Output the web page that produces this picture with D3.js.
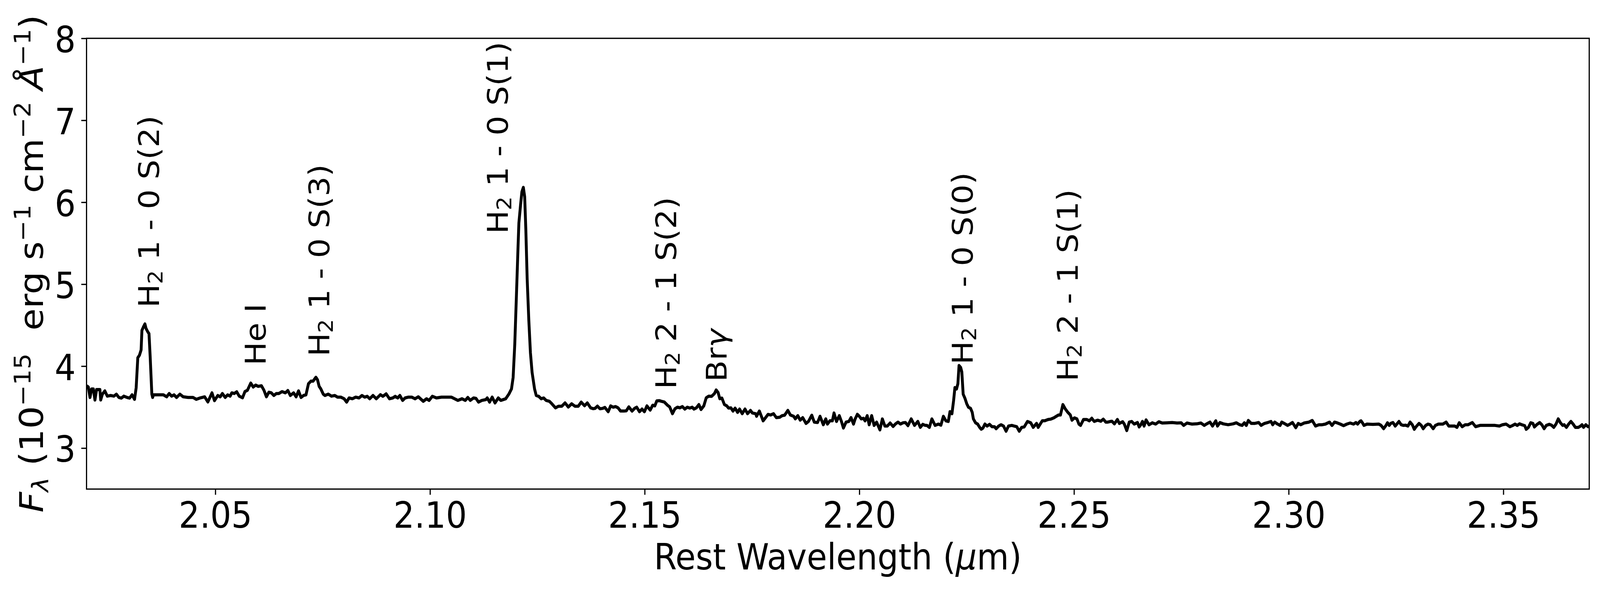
<!DOCTYPE html>
<html lang="en">
<head>
    <meta charset="utf-8">
    <script src="https://cdn.jsdelivr.net/npm/d3@7"></script>
    <style>
        html, body { margin: 0; padding: 0; background: #fff; overflow: hidden; }
        svg { display: block; width: 100vw; height: 100vh; }
        text { font-family: "DejaVu Sans", sans-serif; fill: #000; white-space: pre; }
    </style>
</head>
<body>
<script>

    // [rest wavelength (um), F_lambda (1e-15 erg/s/cm2/A)]
    const spectrum = [
        [2.02004, 3.761], [2.02042, 3.745], [2.02081, 3.618], [2.02119, 3.722], [2.02158, 3.722],
        [2.02196, 3.587], [2.02234, 3.714], [2.02273, 3.714], [2.02311, 3.714], [2.02330, 3.587],
        [2.02369, 3.658], [2.02426, 3.698], [2.02484, 3.634], [2.02561, 3.642], [2.02638, 3.634],
        [2.02695, 3.658], [2.02753, 3.618], [2.02810, 3.610], [2.02868, 3.634], [2.02945, 3.618],
        [2.03002, 3.610], [2.03060, 3.650], [2.03118, 3.595], [2.03156, 3.737], [2.03194, 4.102],
        [2.03233, 4.134], [2.03271, 4.198], [2.03290, 4.436], [2.03329, 4.483], [2.03360, 4.515],
        [2.03386, 4.460], [2.03425, 4.420], [2.03455, 4.396], [2.03482, 4.118], [2.03521, 3.658],
        [2.03540, 3.618], [2.03559, 3.650], [2.03674, 3.650], [2.03790, 3.650], [2.03866, 3.626],
        [2.03924, 3.666], [2.03982, 3.634], [2.04039, 3.650], [2.04097, 3.618], [2.04174, 3.658],
        [2.04250, 3.626], [2.04366, 3.618], [2.04481, 3.618], [2.04558, 3.595], [2.04634, 3.610],
        [2.04750, 3.626], [2.04826, 3.563], [2.04922, 3.674], [2.04980, 3.579], [2.05057, 3.642],
        [2.05114, 3.626], [2.05164, 3.666], [2.05230, 3.618], [2.05287, 3.650], [2.05345, 3.634],
        [2.05383, 3.674], [2.05441, 3.666], [2.05498, 3.687], [2.05556, 3.634], [2.05633, 3.614],
        [2.05690, 3.690], [2.05748, 3.706], [2.05825, 3.793], [2.05882, 3.745], [2.05940, 3.769],
        [2.05998, 3.753], [2.06074, 3.761], [2.06132, 3.706], [2.06190, 3.626], [2.06247, 3.682],
        [2.06305, 3.674], [2.06362, 3.642], [2.06420, 3.666], [2.06478, 3.666], [2.06554, 3.690],
        [2.06631, 3.674], [2.06689, 3.703], [2.06746, 3.642], [2.06823, 3.674], [2.06881, 3.626],
        [2.06938, 3.698], [2.06996, 3.618], [2.07054, 3.642], [2.07111, 3.650], [2.07169, 3.785],
        [2.07226, 3.817], [2.07276, 3.817], [2.07342, 3.864], [2.07380, 3.833], [2.07418, 3.753],
        [2.07457, 3.722], [2.07514, 3.658], [2.07553, 3.642], [2.07630, 3.658], [2.07706, 3.634],
        [2.07783, 3.642],
        [2.07846, 3.622], [2.07923, 3.622], [2.08000, 3.602], [2.08058, 3.561], [2.08115, 3.612],
        [2.08192, 3.602], [2.08269, 3.622], [2.08346, 3.612], [2.08415, 3.642], [2.08480, 3.622],
        [2.08538, 3.632], [2.08595, 3.602], [2.08672, 3.642], [2.08749, 3.602], [2.08845, 3.652],
        [2.08903, 3.632], [2.08979, 3.662], [2.09056, 3.602], [2.09133, 3.612], [2.09190, 3.632],
        [2.09248, 3.612], [2.09298, 3.642], [2.09363, 3.582], [2.09421, 3.612], [2.09498, 3.622],
        [2.09574, 3.622], [2.09651, 3.602], [2.09728, 3.626], [2.09843, 3.571], [2.09920, 3.602],
        [2.09978, 3.582], [2.10054, 3.632], [2.10150, 3.612], [2.10266, 3.622], [2.10381, 3.622],
        [2.10496, 3.622], [2.10573, 3.602], [2.10650, 3.582], [2.10746, 3.602], [2.10822, 3.582],
        [2.10880, 3.618], [2.10938, 3.582], [2.11014, 3.612], [2.11072, 3.606], [2.11130, 3.561],
        [2.11206, 3.582], [2.11302, 3.592], [2.11333, 3.612], [2.11387, 3.561], [2.11448, 3.622],
        [2.11514, 3.551], [2.11590, 3.612], [2.11648, 3.582], [2.11763, 3.602], [2.11840, 3.662],
        [2.11898, 3.722], [2.11936, 3.862], [2.11974, 4.263], [2.12013, 4.864], [2.12051, 5.466],
        [2.12070, 5.746], [2.12109, 5.967], [2.12140, 6.127], [2.12174, 6.181], [2.12205, 6.067],
        [2.12232, 5.666], [2.12263, 5.065], [2.12301, 4.564], [2.12339, 4.163], [2.12378, 3.922],
        [2.12435, 3.722], [2.12474, 3.642], [2.12531, 3.632], [2.12589, 3.602], [2.12646, 3.612],
        [2.12704, 3.582], [2.12781, 3.571], [2.12838, 3.541], [2.12923, 3.491], [2.12992, 3.511],
        [2.13069, 3.511], [2.13146, 3.551], [2.13222, 3.501], [2.13299, 3.541], [2.13376, 3.511],
        [2.13453, 3.511], [2.13522, 3.561], [2.13599, 3.517], [2.13664, 3.551], [2.13741, 3.491],
        [2.13798, 3.481],
        [2.13843, 3.484], [2.13900, 3.512], [2.13958, 3.480], [2.14015, 3.484], [2.14073, 3.496],
        [2.14150, 3.444], [2.14207, 3.515], [2.14265, 3.499], [2.14322, 3.507], [2.14380, 3.491],
        [2.14438, 3.452], [2.14514, 3.452], [2.14572, 3.455], [2.14630, 3.503], [2.14706, 3.452],
        [2.14764, 3.484], [2.14814, 3.499], [2.14879, 3.444], [2.14937, 3.476], [2.14994, 3.444],
        [2.15052, 3.515], [2.15129, 3.464], [2.15186, 3.523], [2.15236, 3.515], [2.15282, 3.576],
        [2.15340, 3.579], [2.15390, 3.571], [2.15455, 3.563], [2.15532, 3.523], [2.15582, 3.503],
        [2.15647, 3.420], [2.15705, 3.480], [2.15763, 3.499], [2.15820, 3.491], [2.15878, 3.507],
        [2.15935, 3.476], [2.15993, 3.499], [2.16050, 3.488], [2.16108, 3.499], [2.16146, 3.476],
        [2.16204, 3.491], [2.16262, 3.531], [2.16312, 3.471], [2.16377, 3.515], [2.16434, 3.614],
        [2.16492, 3.634], [2.16557, 3.631], [2.16626, 3.666], [2.16665, 3.709], [2.16711, 3.677],
        [2.16749, 3.603], [2.16799, 3.610], [2.16857, 3.531], [2.16914, 3.515], [2.16953, 3.488],
        [2.17010, 3.491], [2.17056, 3.452], [2.17106, 3.487], [2.17164, 3.436], [2.17210, 3.476],
        [2.17272, 3.420], [2.17337, 3.476], [2.17395, 3.420], [2.17464, 3.460], [2.17510, 3.428],
        [2.17587, 3.420], [2.17606, 3.388], [2.17671, 3.452], [2.17759, 3.333], [2.17817, 3.372],
        [2.17874, 3.412], [2.17932, 3.404], [2.18001, 3.420], [2.18066, 3.372], [2.18143, 3.376],
        [2.18201, 3.396], [2.18258, 3.401], [2.18335, 3.460], [2.18393, 3.404], [2.18470, 3.388],
        [2.18508, 3.357], [2.18566, 3.396], [2.18623, 3.341], [2.18681, 3.372], [2.18758, 3.301],
        [2.18815, 3.325], [2.18892, 3.401], [2.18950, 3.317], [2.19027, 3.312], [2.19084, 3.388],
        [2.19161, 3.285], [2.19218, 3.357], [2.19257, 3.293], [2.19314, 3.333], [2.19372, 3.333],
        [2.19410, 3.428], [2.19468, 3.325], [2.19533, 3.396], [2.19583, 3.325], [2.19629, 3.245],
        [2.19690, 3.317], [2.19756, 3.325], [2.19806, 3.372],
        [2.19864, 3.293], [2.19903, 3.356], [2.19953, 3.412], [2.19999, 3.388], [2.20045, 3.356],
        [2.20095, 3.364], [2.20133, 3.333], [2.20183, 3.396], [2.20229, 3.285], [2.20287, 3.396],
        [2.20344, 3.277], [2.20402, 3.317], [2.20441, 3.269], [2.20479, 3.222], [2.20536, 3.356],
        [2.20594, 3.269], [2.20652, 3.269], [2.20717, 3.306], [2.20786, 3.264], [2.20844, 3.296],
        [2.20901, 3.317], [2.20959, 3.293], [2.21016, 3.309], [2.21074, 3.312], [2.21132, 3.274],
        [2.21208, 3.356], [2.21285, 3.277], [2.21362, 3.325], [2.21420, 3.253], [2.21477, 3.290],
        [2.21535, 3.277], [2.21573, 3.277], [2.21631, 3.253], [2.21689, 3.356], [2.21765, 3.277],
        [2.21842, 3.293], [2.21900, 3.280], [2.21957, 3.388], [2.22015, 3.333], [2.22072, 3.325],
        [2.22111, 3.444], [2.22157, 3.420], [2.22195, 3.579], [2.22226, 3.738], [2.22264, 3.722],
        [2.22295, 3.785], [2.22322, 4.007], [2.22360, 3.984], [2.22387, 3.928], [2.22418, 3.658],
        [2.22457, 3.611], [2.22503, 3.539], [2.22541, 3.499], [2.22591, 3.484], [2.22629, 3.436],
        [2.22656, 3.356], [2.22706, 3.309], [2.22756, 3.293], [2.22802, 3.253], [2.22840, 3.230],
        [2.22879, 3.245], [2.22925, 3.293], [2.22975, 3.269], [2.23033, 3.290], [2.23090, 3.261],
        [2.23148, 3.261], [2.23186, 3.237], [2.23244, 3.269], [2.23301, 3.285], [2.23359, 3.269],
        [2.23417, 3.206], [2.23474, 3.269], [2.23551, 3.277], [2.23609, 3.269], [2.23666, 3.261],
        [2.23724, 3.206], [2.23781, 3.253], [2.23839, 3.258], [2.23916, 3.325], [2.23993, 3.309],
        [2.24050, 3.253], [2.24127, 3.301], [2.24165, 3.253], [2.24261, 3.333], [2.24319, 3.333],
        [2.24396, 3.349], [2.24453, 3.353], [2.24530, 3.369], [2.24588, 3.388], [2.24638, 3.404],
        [2.24684, 3.404], [2.24741, 3.531], [2.24799, 3.476], [2.24856, 3.436], [2.24914, 3.404],
        [2.24952, 3.341], [2.25010, 3.369], [2.25068, 3.356], [2.25114, 3.293], [2.25152, 3.277],
        [2.25221, 3.349], [2.25298, 3.349], [2.25356, 3.333], [2.25413, 3.364], [2.25471, 3.325],
        [2.25548, 3.341], [2.25625, 3.328], [2.25682, 3.353], [2.25740, 3.317],
        [2.25787, 3.317], [2.25845, 3.325], [2.25883, 3.328], [2.25941, 3.296], [2.26010, 3.349],
        [2.26056, 3.301], [2.26133, 3.322], [2.26171, 3.293], [2.26229, 3.214], [2.26286, 3.317],
        [2.26344, 3.325], [2.26402, 3.293], [2.26478, 3.312], [2.26517, 3.258], [2.26555, 3.285],
        [2.26594, 3.325], [2.26632, 3.269], [2.26678, 3.344], [2.26709, 3.317], [2.26747, 3.285],
        [2.26824, 3.309], [2.26901, 3.293], [2.26978, 3.322], [2.27054, 3.306], [2.27170, 3.309],
        [2.27285, 3.312], [2.27400, 3.306], [2.27496, 3.309], [2.27554, 3.277], [2.27631, 3.306],
        [2.27746, 3.293], [2.27861, 3.296], [2.27957, 3.306], [2.28034, 3.277], [2.28091, 3.296],
        [2.28168, 3.317], [2.28226, 3.269], [2.28302, 3.333], [2.28341, 3.269], [2.28398, 3.312],
        [2.28475, 3.296], [2.28590, 3.285], [2.28706, 3.296], [2.28782, 3.309], [2.28859, 3.285],
        [2.28917, 3.277], [2.28967, 3.309], [2.29013, 3.277], [2.29059, 3.337], [2.29128, 3.301],
        [2.29205, 3.301], [2.29301, 3.312], [2.29358, 3.277], [2.29435, 3.301], [2.29512, 3.312],
        [2.29589, 3.325], [2.29627, 3.285], [2.29673, 3.317], [2.29742, 3.293], [2.29800, 3.277],
        [2.29838, 3.317], [2.29896, 3.301], [2.29973, 3.277], [2.30030, 3.293], [2.30088, 3.312],
        [2.30165, 3.249], [2.30222, 3.301], [2.30280, 3.285], [2.30357, 3.306], [2.30472, 3.317],
        [2.30549, 3.337], [2.30626, 3.269], [2.30702, 3.285], [2.30779, 3.285], [2.30856, 3.293],
        [2.30952, 3.317], [2.31009, 3.277], [2.31067, 3.317], [2.31125, 3.309], [2.31202, 3.293],
        [2.31278, 3.274], [2.31355, 3.293], [2.31432, 3.306], [2.31509, 3.293], [2.31566, 3.312],
        [2.31605, 3.293], [2.31662, 3.328],
        [2.31684, 3.333], [2.31718, 3.309], [2.31753, 3.277], [2.31823, 3.293], [2.31961, 3.290],
        [2.32100, 3.293], [2.32152, 3.277], [2.32211, 3.237], [2.32256, 3.269], [2.32301, 3.309],
        [2.32343, 3.277], [2.32377, 3.301], [2.32429, 3.312], [2.32481, 3.269], [2.32568, 3.325],
        [2.32620, 3.285], [2.32672, 3.277], [2.32724, 3.280], [2.32776, 3.269], [2.32828, 3.317],
        [2.32880, 3.285], [2.32925, 3.229], [2.32967, 3.261], [2.33036, 3.301], [2.33088, 3.277],
        [2.33133, 3.237], [2.33192, 3.277], [2.33244, 3.293], [2.33296, 3.285], [2.33365, 3.237],
        [2.33417, 3.277], [2.33487, 3.293], [2.33591, 3.293], [2.33667, 3.317], [2.33729, 3.269],
        [2.33799, 3.269], [2.33868, 3.269], [2.33920, 3.253], [2.33972, 3.309], [2.34041, 3.261],
        [2.34111, 3.285], [2.34180, 3.285], [2.34277, 3.312], [2.34354, 3.261], [2.34458, 3.277],
        [2.34631, 3.277], [2.34804, 3.277], [2.34908, 3.269], [2.34978, 3.285], [2.35064, 3.293],
        [2.35151, 3.261], [2.35220, 3.277], [2.35272, 3.293], [2.35324, 3.277], [2.35376, 3.296],
        [2.35428, 3.285], [2.35498, 3.274], [2.35532, 3.229], [2.35584, 3.253], [2.35637, 3.309],
        [2.35689, 3.301], [2.35723, 3.258], [2.35775, 3.285], [2.35845, 3.312], [2.35897, 3.285],
        [2.35949, 3.237], [2.36001, 3.277], [2.36070, 3.290], [2.36122, 3.280], [2.36174, 3.253],
        [2.36226, 3.293], [2.36278, 3.357], [2.36330, 3.309], [2.36382, 3.277], [2.36417, 3.285],
        [2.36469, 3.253], [2.36521, 3.293], [2.36573, 3.325], [2.36625, 3.293], [2.36677, 3.253],
        [2.36746, 3.253], [2.36798, 3.269], [2.36833, 3.285], [2.36868, 3.253], [2.36920, 3.285],
        [2.36972, 3.261], [2.37006, 3.269]
    ];

    const xTicks = [2.05, 2.10, 2.15, 2.20, 2.25, 2.30, 2.35];
    const yTicks = [3, 4, 5, 6, 7, 8];

    // line identifications, anchored in data coordinates (wavelength, flux)
    const lineLabels = [
        {main: "H", sub: "2", rest: " 1 - 0 S(2)", wl: 2.0369, flux: 4.715},
        {main: "He I", wl: 2.0617, flux: 4.010},
        {main: "H", sub: "2", rest: " 1 - 0 S(3)", wl: 2.0765, flux: 4.119},
        {main: "H", sub: "2", rest: " 1 - 0 S(1)", wl: 2.1181, flux: 5.615},
        {main: "H", sub: "2", rest: " 2 - 1 S(2)", wl: 2.1573, flux: 3.720},
        {main: "Br", greek: "γ", wl: 2.1691, flux: 3.810},
        {main: "H", sub: "2", rest: " 1 - 0 S(0)", wl: 2.2264, flux: 4.021},
        {main: "H", sub: "2", rest: " 2 - 1 S(1)", wl: 2.2509, flux: 3.815}
    ];

    const W = 4456, H = 1509;
    const plotLeft = 241, plotRight = 4426, plotTop = 98.2, plotBottom = 1253;
    const tickLen = 14.6, spineW = 3.3;

    // the figure is laid out at 4456x1509 and stretched to fill the window
    const svg = d3.select("body").append("svg")
        .attr("viewBox", "0 0 " + W + " " + H)
        .attr("preserveAspectRatio", "none");
    svg.append("rect").attr("width", W).attr("height", H).attr("fill", "#fff");

    const x = d3.scaleLinear().domain([2.02, 2.37]).range([plotLeft, plotRight]);
    const y = d3.scaleLinear().domain([2.5, 8]).range([plotBottom, plotTop]);

    svg.append("clipPath").attr("id", "plot-clip")
        .append("rect")
        .attr("x", plotLeft).attr("y", plotTop)
        .attr("width", plotRight - plotLeft).attr("height", plotBottom - plotTop);

    // spectrum
    let line = d3.line()
        .x(function (d) { return x(d[0]); })
        .y(function (d) { return y(d[1]); });

    svg.append("path")
        .datum(spectrum)
        .attr("clip-path", "url(#plot-clip)")
        .attr("d", line)
        .attr("fill", "none")
        .attr("stroke", "#000")
        .attr("stroke-width", 8)
        .attr("stroke-linejoin", "round");

    // axes
    let xAxis = svg.append("g")
        .attr("transform", "translate(0," + plotBottom + ")")
        .call(d3.axisBottom(x).tickValues(xTicks).tickFormat(d3.format(".2f")).tickSize(tickLen));
    xAxis.select(".domain").remove();
    xAxis.selectAll("line").attr("stroke", "#000").attr("stroke-width", spineW);
    xAxis.selectAll("text")
        .attr("y", 99).attr("dy", 0)
        .style("font-size", "92px")
        .style("font-family", "DejaVu Sans");

    let yAxis = svg.append("g")
        .attr("transform", "translate(" + plotLeft + ",0)")
        .call(d3.axisLeft(y).tickValues(yTicks).tickFormat(d3.format("d")).tickSize(tickLen));
    yAxis.select(".domain").remove();
    yAxis.selectAll("line").attr("stroke", "#000").attr("stroke-width", spineW);
    yAxis.selectAll("text")
        .attr("x", -(tickLen * 2 + 1)).attr("dy", "0.38em")
        .style("font-size", "92px")
        .style("font-family", "DejaVu Sans");

    // frame
    svg.append("rect")
        .attr("x", plotLeft).attr("y", plotTop)
        .attr("width", plotRight - plotLeft).attr("height", plotBottom - plotTop)
        .attr("fill", "none")
        .attr("stroke", "#000")
        .attr("stroke-width", spineW);

    // line labels
    let labels = svg.append("g").selectAll("text")
        .data(lineLabels)
        .enter().append("text")
        .attr("transform", function (d) {
            return "translate(" + x(d.wl) + "," + y(d.flux) + ") rotate(-90)";
        })
        .style("font-size", "80px");

    labels.each(function (d) {
        let t = d3.select(this);
        t.append("tspan").text(d.main);
        if (d.sub) {
            t.append("tspan").attr("dy", 10).style("font-size", "56px").text(d.sub);
            t.append("tspan").attr("dy", -10).text(d.rest);
        }
        if (d.greek) {
            t.append("tspan").style("font-style", "italic").text(d.greek);
        }
    });

    // x label
    let xl = svg.append("text")
        .attr("x", (plotLeft + plotRight) / 2).attr("y", 1459)
        .attr("text-anchor", "middle")
        .style("font-size", "92px");
    xl.append("tspan").text("Rest Wavelength (");
    xl.append("tspan").style("font-style", "italic").text("μ");
    xl.append("tspan").text("m)");

    // y label pieces: shift in em, positive is down
    const yLabelParts = [
        {t: "F", italic: true, shift: 0},
        {t: "λ", italic: true, small: true, shift: 0.16},
        {t: " (10", shift: 0},
        {t: "−15", small: true, shift: -0.38},
        {t: "  erg s", shift: 0},
        {t: "−1", small: true, shift: -0.38},
        {t: " cm", shift: 0},
        {t: "−2", small: true, shift: -0.38},
        {t: " ", shift: 0},
        {t: "Å", italic: true, shift: 0},
        {t: "−1", small: true, shift: -0.38},
        {t: ")", shift: 0}
    ];

    let yl = svg.append("text")
        .attr("transform", "translate(120," + ((plotTop + plotBottom) / 2) + ") rotate(-90)")
        .attr("text-anchor", "middle")
        .style("font-size", "92px");
    let prevShift = 0;
    yLabelParts.forEach(function (p) {
        yl.append("tspan")
            .attr("dy", (p.shift - prevShift) * 92)
            .style("font-size", p.small ? "64px" : "92px")
            .style("font-style", p.italic ? "italic" : "normal")
            .text(p.t);
        prevShift = p.shift;
    });
</script>
</body>
</html>
